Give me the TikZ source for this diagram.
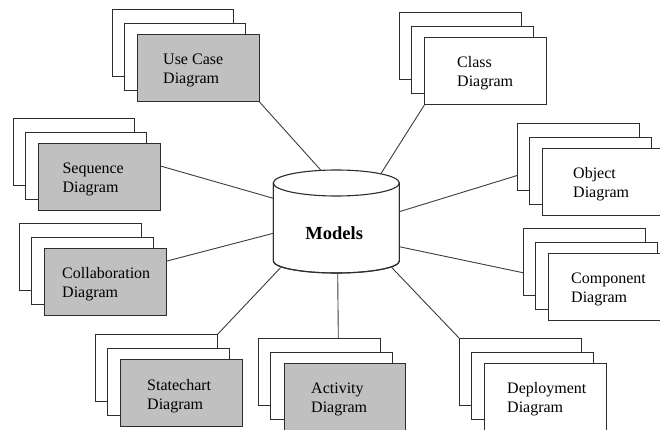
\documentclass[tikz,border=0pt]{standalone}
\usepackage{fontspec}
\setmainfont{Liberation Serif}
\usetikzlibrary{calc}
\definecolor{edgecol}{RGB}{45,45,45}
\definecolor{conncol}{RGB}{60,60,60}
\definecolor{shade}{RGB}{192,192,192}
\tikzset{
  sheet/.style={draw=edgecol, line width=1.1pt, fill=white, anchor=north west,
    minimum width=121.5pt, minimum height=67pt, inner sep=0pt},
  lbl/.style={anchor=west, align=left, inner sep=0pt,
    font=\fontsize{16pt}{19pt}\selectfont},
  conn/.style={draw=conncol, line width=0.9pt},
  cyl/.style={draw=edgecol, line width=1.1pt, fill=white}
}
% name, back x, back y, front fill, text offset, text
\newcommand\umlstack[6]{%
  \node[sheet] (#1a) at (#2,#3) {};
  \node[sheet] (#1b) at ($(#1a.north west)+(12,14)$) {};
  \node[sheet, fill=#4] (#1) at ($(#1b.north west)+(13.3,11)$) {};
  \node[lbl] (#1t) at ($(#1.west)+(#5,2.5)$) {#6};
}
\begin{document}
\begin{tikzpicture}[x=1pt,y=-1pt]
\useasboundingbox (0,0) rectangle (660,430);
\clip (0,0) rectangle (660,430);
% cylinder
\coordinate (cUC) at (320.7,170);
\coordinate (cCls) at (380.7,174);
\coordinate (cSeq) at (273.3,198.3);
\coordinate (cCol) at (273.3,233.3);
\coordinate (cSt) at (280.7,267.5);
\coordinate (cAct) at (337.7,273);
\coordinate (cDep) at (391.7,267.5);
\coordinate (cObj) at (399.3,211.7);
\coordinate (cCmp) at (399.3,246.7);
\path[cyl] (273.3,183) -- (273.3,261) arc[start angle=180, end angle=360, x radius=63pt, y radius=12pt] -- (399.3,183) -- cycle;
\draw[draw=edgecol, line width=1.1pt] (273.3,183) -- (273.3,261) arc[start angle=180, end angle=360, x radius=63pt, y radius=12pt] -- (399.3,183);
\draw[cyl] (336.3,183) ellipse [x radius=63pt, y radius=13pt];
\node[anchor=base, inner sep=0pt, font=\fontsize{18.5pt}{22pt}\selectfont\bfseries] (models) at (334.2,239) {Models};
% stacks
\umlstack{uc}{111.7}{9}{shade}{26}{Use Case\\Diagram}
\umlstack{cls}{399}{12}{white}{32.7}{Class\\Diagram}
\umlstack{seq}{12.7}{118}{shade}{24.3}{Sequence\\Diagram}
\umlstack{obj}{517}{123}{white}{30.7}{Object\\Diagram}
\umlstack{col}{19}{223}{shade}{17.7}{Collaboration\\Diagram}
\umlstack{cmp}{523}{227.7}{white}{22.7}{Component\\Diagram}
\umlstack{st}{95}{334.3}{shade}{26.7}{Statechart\\Diagram}
\umlstack{act}{258.3}{337.7}{shade}{27.4}{Activity\\Diagram}
\umlstack{dep}{459}{338}{white}{22.7}{Deployment\\Diagram}
% connectors
\draw[conn] (uc.south east) -- (cUC);
\draw[conn] (cls.south west) -- (cCls);
\draw[conn] ([yshift=11pt]seq.east) -- (cSeq);
\draw[conn] ([yshift=21pt]col.east) -- (cCol);
\draw[conn] ([yshift=-18.5pt]obja.west) -- (cObj);
\draw[conn] ([yshift=-11pt]cmpa.west) -- (cCmp);
\draw[conn] (sta.north east) -- (cSt);
\draw[conn] ([xshift=18.7pt]acta.north) -- (cAct);
\draw[conn] (depa.north west) -- (cDep);
\end{tikzpicture}
\end{document}
